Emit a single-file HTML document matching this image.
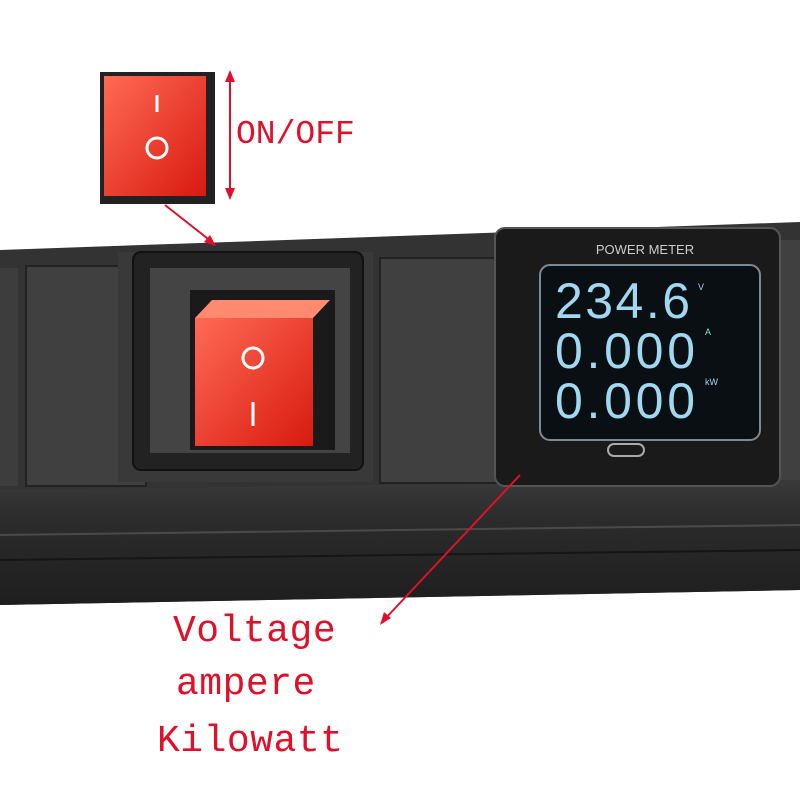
<!DOCTYPE html>
<html><head><meta charset="utf-8"><style>
body{margin:0;width:800px;height:800px;background:#fff;position:relative;overflow:hidden;font-family:"Liberation Mono",monospace}
.a{position:absolute}
.txt{color:#e0102a;font-size:38px;position:absolute;white-space:nowrap;letter-spacing:0.5px}
</style></head><body>
<svg class="a" style="left:0;top:0" width="800" height="800">
<defs>
<linearGradient id="rail" x1="0" y1="0" x2="0" y2="1">
<stop offset="0" stop-color="#3a3a3a"/><stop offset="0.3" stop-color="#2c2c2c"/><stop offset="1" stop-color="#1e1e1e"/></linearGradient>
<linearGradient id="red" x1="0" y1="0" x2="1" y2="1">
<stop offset="0" stop-color="#ff6a55"/><stop offset="1" stop-color="#d81a10"/></linearGradient>
</defs>
<polygon points="0,250 800,222 800,590 0,605" fill="#333"/>
<polygon points="0,490 800,480 800,590 0,605" fill="url(#rail)"/>
<line x1="0" y1="535" x2="800" y2="525" stroke="#4a4a4a" stroke-width="2"/>
<line x1="0" y1="560" x2="800" y2="550" stroke="#151515" stroke-width="2"/>
<rect x="0" y="268" width="18" height="218" fill="#3d3d3d"/>
<rect x="26" y="266" width="120" height="220" fill="#404040" stroke="#222" stroke-width="2"/>
<rect x="380" y="258" width="120" height="225" fill="#404040" stroke="#222" stroke-width="2"/>
<rect x="772" y="240" width="28" height="240" fill="#404040"/>
<rect x="118" y="252" width="255" height="230" fill="#393939"/>
<rect x="133" y="252" width="230" height="218" rx="8" fill="#222" stroke="#111" stroke-width="2"/>
<rect x="150" y="268" width="200" height="185" fill="#444"/>
<rect x="190" y="290" width="145" height="160" fill="#1a1a1a"/>
<rect x="195" y="318" width="118" height="128" fill="url(#red)"/>
<polygon points="195,318 313,318 330,300 212,300" fill="#ff8a70"/>
<circle cx="253" cy="358" r="10" fill="none" stroke="#fff" stroke-width="3"/>
<line x1="253" y1="402" x2="253" y2="426" stroke="#fff" stroke-width="3"/>
<rect x="495" y="228" width="285" height="258" rx="10" fill="#1a1a1a" stroke="#555" stroke-width="2"/>
<rect x="540" y="265" width="220" height="175" rx="10" fill="#0a0f14" stroke="#7a8a96" stroke-width="2"/>
<text x="645" y="254" fill="#ccc" font-family="Liberation Sans" font-size="13" text-anchor="middle">POWER METER</text>
<text x="555" y="318" font-size="50" fill="#9fd8f0" font-family="Liberation Sans" textLength="135">234.6</text>
<text x="555" y="368" font-size="50" fill="#9fd8f0" font-family="Liberation Sans" textLength="140">0.000</text>
<text x="555" y="418" font-size="50" fill="#9fd8f0" font-family="Liberation Sans" textLength="140">0.000</text>
<text x="698" y="290" fill="#9fd8f0" font-size="9" font-family="Liberation Sans">V</text>
<text x="705" y="335" fill="#9fd8f0" font-size="9" font-family="Liberation Sans">A</text>
<text x="705" y="385" fill="#9fd8f0" font-size="9" font-family="Liberation Sans">kW</text>
<rect x="608" y="444" width="36" height="12" rx="6" fill="none" stroke="#aaa" stroke-width="2"/>
<rect x="100" y="72" width="115" height="132" fill="#222"/>
<rect x="104" y="76" width="102" height="120" fill="url(#red)"/>
<line x1="157" y1="95" x2="157" y2="112" stroke="#fff" stroke-width="3"/>
<circle cx="157" cy="148" r="10" fill="none" stroke="#fff" stroke-width="3"/>
<g stroke="#e0102a" stroke-width="2" fill="#e0102a">
<line x1="230" y1="76" x2="230" y2="196"/>
<polygon points="230,70 225,82 235,82" stroke="none"/>
<polygon points="230,200 225,188 235,188" stroke="none"/>
<line x1="165" y1="205" x2="212" y2="242"/>
<polygon points="216,246 204,242 210,235" stroke="none"/>
<line x1="520" y1="475" x2="384" y2="620"/>
<polygon points="380,625 384,612 391,618" stroke="none"/>
</g>
</svg>
<div class="txt" style="left:236px;top:116px;font-size:33px;letter-spacing:0">ON/OFF</div>
<div class="txt" style="left:173px;top:610px">Voltage</div>
<div class="txt" style="left:176px;top:663px">ampere</div>
<div class="txt" style="left:157px;top:720px">Kilowatt</div>
</body></html>
